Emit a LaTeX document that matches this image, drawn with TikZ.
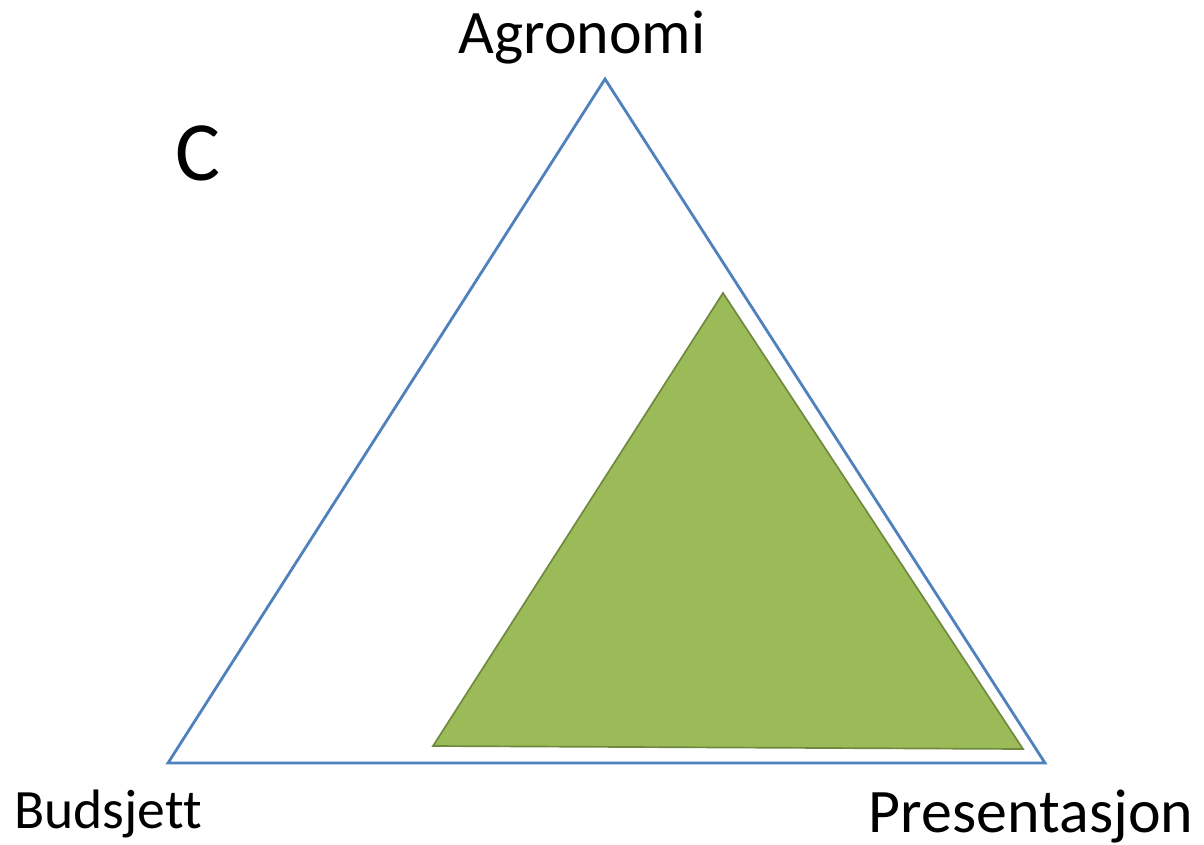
\documentclass[tikz,border=0pt]{standalone}
\usepackage{fontspec}
\setmainfont[Ligatures={NoCommon}]{Carlito}
\definecolor{triblue}{HTML}{4F81BD}
\definecolor{trigreen}{HTML}{9BBB59}
\definecolor{trigreendark}{HTML}{71893F}

\begin{document}
\begin{tikzpicture}[x=0.025cm, y=-0.025cm]
 \useasboundingbox (0,0) rectangle (1204,844);
 \begin{scope}[every node/.style={inner sep=0pt, anchor=base}]
   \node (agro) [font=\fontsize{44}{50}\selectfont] at (582,53) {Agronomi};
   \node (buds) [font=\fontsize{39.5}{44}\selectfont] at (108,828) {Budsjett};
   \node (pres) [font=\fontsize{44}{50}\selectfont] at (1031,832) {Presentasjon};
   \node (lblC) [font=\fontsize{60}{66}\selectfont] at (198,180) {C};
 \end{scope}
   \coordinate (top) at (605,79);
   \coordinate (left) at (168,763);
   \coordinate (right) at (1045,763);
   \coordinate (gtop) at (723,293);
   \coordinate (gleft) at (433,746);
   \coordinate (gright) at (1023,749);
   \draw[triblue, line width=2pt, line join=miter] (top) -- (right) -- (left) -- cycle;
   \draw[trigreendark, fill=trigreen, line width=1.2pt] (gtop) -- (gright) -- (gleft) -- cycle;
\end{tikzpicture}
\end{document}
